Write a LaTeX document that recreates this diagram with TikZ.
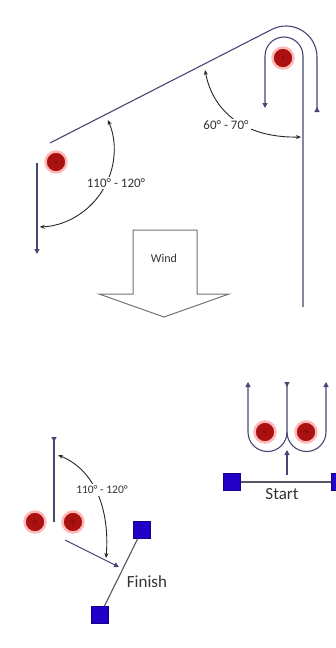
\documentclass[tikz,border=0pt]{standalone}
\usepackage{fontspec}
\setmainfont{Carlito}
\usetikzlibrary{arrows.meta}
\definecolor{pathc}{RGB}{70,70,115}
\definecolor{linec}{RGB}{85,85,100}
\definecolor{markred}{RGB}{170,18,18}
\definecolor{sqblue}{RGB}{35,0,200}
\definecolor{txt}{RGB}{50,50,50}
\tikzset{
  pathline/.style={draw=pathc, line width=1.1pt},
  tri/.style={-{Triangle[width=5pt,length=5pt]}},
  angarc/.style={draw=black!85, line width=0.9pt, {Stealth[length=5pt,width=4pt]}-{Stealth[length=5pt,width=4pt]}},
  anglab/.style={fill=white, inner sep=2pt, font=\fontsize{13}{14}\selectfont, text=txt},
  racemark/.style={circle, minimum size=21pt, inner sep=0pt, fill=markred, draw=red!28, line width=2.5pt, font=\fontsize{5}{5}\selectfont, text=red!45!black},
  boxmark/.style={rectangle, minimum size=17pt, inner sep=0pt, fill=sqblue, draw=sqblue!70!black},
  bigtext/.style={font=\fontsize{17}{18}\selectfont, text=txt},
}
\begin{document}
\begin{tikzpicture}[x=1pt,y=-1pt]
\useasboundingbox (0,0) rectangle (335,648);
% top course
\coordinate (a0) at (50,143);
\coordinate (a1) at (271.9,29.4);
\coordinate (a2) at (317,112);
\draw[pathline, -{Triangle[reversed,width=5pt,length=5pt]}] (a0) -- (a1) arc[start angle=117, end angle=0, radius=31pt] -- (a2);
\coordinate (c0) at (303,307);
\coordinate (c1) at (303,56);
\coordinate (c2) at (265,108);
\draw[pathline, tri] (c0) -- (c1) arc[start angle=0, end angle=180, radius=19pt] -- (c2);
\node[racemark] (m1) at (283,58) {1};
\node[racemark] (m2) at (56,162) {2};
\coordinate (d0) at (37,163);
\coordinate (d1) at (37,254);
\draw[pathline, tri] (d0) -- (d1);
% angle markers top
\coordinate (b1) at (107.9,119.9);
\draw[angarc] (b1) arc[start angle=23, end angle=-88, radius=77pt];
\node[anglab] (l1) at (116,183) {110° - 120°};
\coordinate (e0) at (205,70);
\coordinate (e1) at (301,137);
\draw[angarc] (e0) .. controls (213,112) and (245,138) .. (e1);
\node[anglab] (l2) at (226,125) {60° - 70°};
% wind arrow
\draw[draw=black!55, line width=1pt, fill=white] (133,230) -- (197,230) -- (197,294) -- (229,294) -- (164,317) -- (99,294) -- (133,294) -- cycle;
\node[font=\fontsize{12}{13}\selectfont, text=txt] (wind) at (164,258) {Wind};
% bottom right gate
\coordinate (g0) at (287,382);
\coordinate (g1) at (287,432);
\coordinate (g2) at (248,382);
\coordinate (g3) at (326,382);
\draw[pathline, {Triangle[reversed,width=5pt,length=5pt]}-{Triangle[width=5pt,length=5pt]}] (g0) -- (g1) arc[start angle=0, end angle=-180, radius=19.5pt] -- (g2);
\draw[pathline, tri] (g1) arc[start angle=180, end angle=360, radius=19.5pt] -- (g3);
\coordinate (h0) at (287,475);
\coordinate (h1) at (287,450);
\draw[pathline, tri] (h0) -- (h1);
\node[racemark] (m4s) at (265,432) {4s};
\node[racemark] (m4p) at (306,432) {4p};
\node[boxmark] (s1) at (232,482) {};
\node[boxmark] (s2) at (340,482) {};
\draw[linec, line width=1.1pt] (s1) -- (s2);
\node[bigtext] (start) at (282,494) {Start};
% bottom left gate and finish
\coordinate (k0) at (54,437);
\coordinate (k1) at (54,522);
\draw[pathline, {Triangle[reversed,width=5pt,length=5pt]}-] (k0) -- (k1);
\node[racemark] (m3s) at (35,522) {3s};
\node[racemark] (m3p) at (73,522) {3p};
\coordinate (n0) at (65,540);
\coordinate (n1) at (119,567);
\draw[pathline, tri] (n0) -- (n1);
\coordinate (q0) at (58,455);
\coordinate (q1) at (106,558);
\draw[angarc] (q0) .. controls (95,470) and (110,510) .. (q1);
\node[anglab, font=\fontsize{11.5}{13}\selectfont] (l3) at (102,490) {110° - 120°};
\node[boxmark] (f1) at (142,530) {};
\node[boxmark] (f2) at (100,615) {};
\draw[linec, line width=1.1pt] (f1) -- (f2);
\node[bigtext] (finish) at (147,582) {Finish};
\end{tikzpicture}
\end{document}
